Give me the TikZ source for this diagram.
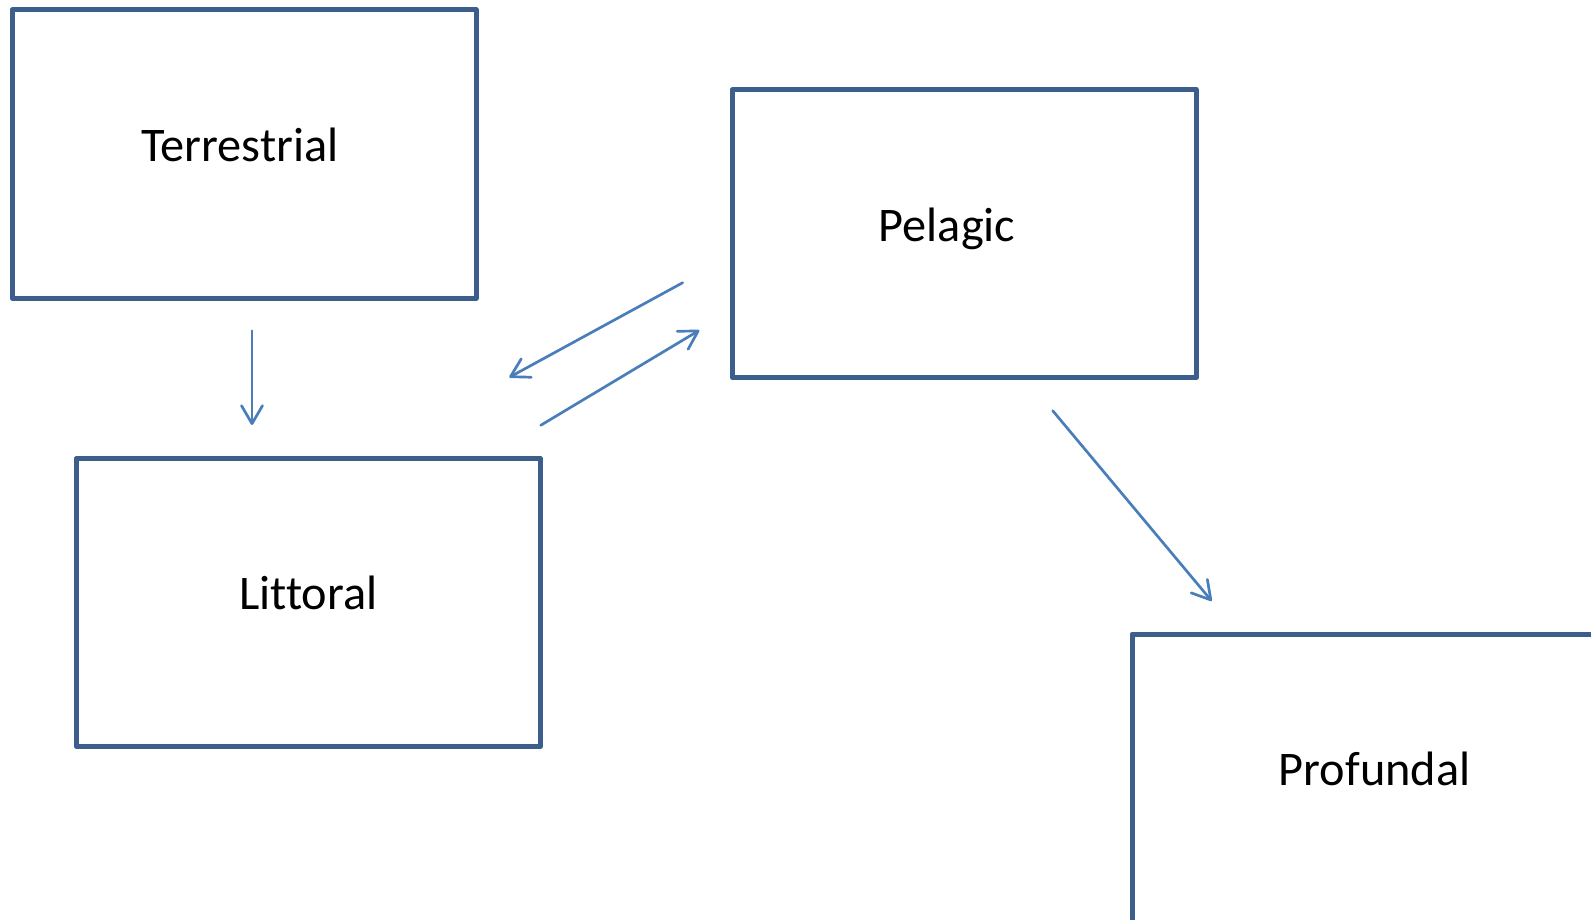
\documentclass[tikz,border=0pt]{standalone}
\usepackage{fontspec}
\setmainfont[Ligatures={NoCommon}]{Carlito}
\usetikzlibrary{arrows.meta}
\definecolor{boxblue}{HTML}{3B5E8C}
\definecolor{arrowblue}{HTML}{4A7EBB}
\tikzset{
  zonebox/.style={draw=boxblue, line width=5pt, line join=round, rectangle,
    minimum width=464pt, minimum height=288pt, inner sep=0pt, outer sep=0pt},
  zonelabel/.style={anchor=base, inner sep=0pt, font=\fontsize{48.3}{58}\selectfont, text=black},
  flow/.style={draw=arrowblue, line width=2.7pt, line cap=round,
    -{Straight Barb[length=18pt, width=21pt, line width=2.7pt, line cap=round, line join=round]}}
}
\begin{document}
\begin{tikzpicture}[x=1pt, y=-1pt]
\useasboundingbox (0,0) rectangle (1591,920);
\clip (0,0) rectangle (1591,920);
% boxes
\node[zonebox] (T) at (244,154) {};
\node[zonebox] (P) at (964.2,233.7) {};
\node[zonebox] (L) at (308.3,602.3) {};
\node[zonebox] (F) at (1364,778) {};
% labels
\node[zonelabel] (Tt) at (240,161.7) {Terrestrial};
\node[zonelabel] (Pt) at (947,241.7) {Pelagic};
\node[zonelabel] (Lt) at (308.3,609) {Littoral};
\node[zonelabel] (Ft) at (1374.6,785) {Profundal};
% connector end points
\coordinate (a1s) at (252,330.7);
\coordinate (a1e) at (252,425);
\coordinate (a2s) at (682.7,282.7);
\coordinate (a2e) at (509.3,377.3);
\coordinate (a3s) at (540.7,425.3);
\coordinate (a3e) at (699.3,330.3);
\coordinate (a4s) at (1052.7,410.7);
\coordinate (a4e) at (1211.7,601);
% connectors
\draw[flow] (a1s) -- (a1e);
\draw[flow] (a2s) -- (a2e);
\draw[flow] (a3s) -- (a3e);
\draw[flow] (a4s) -- (a4e);
\end{tikzpicture}
\end{document}
